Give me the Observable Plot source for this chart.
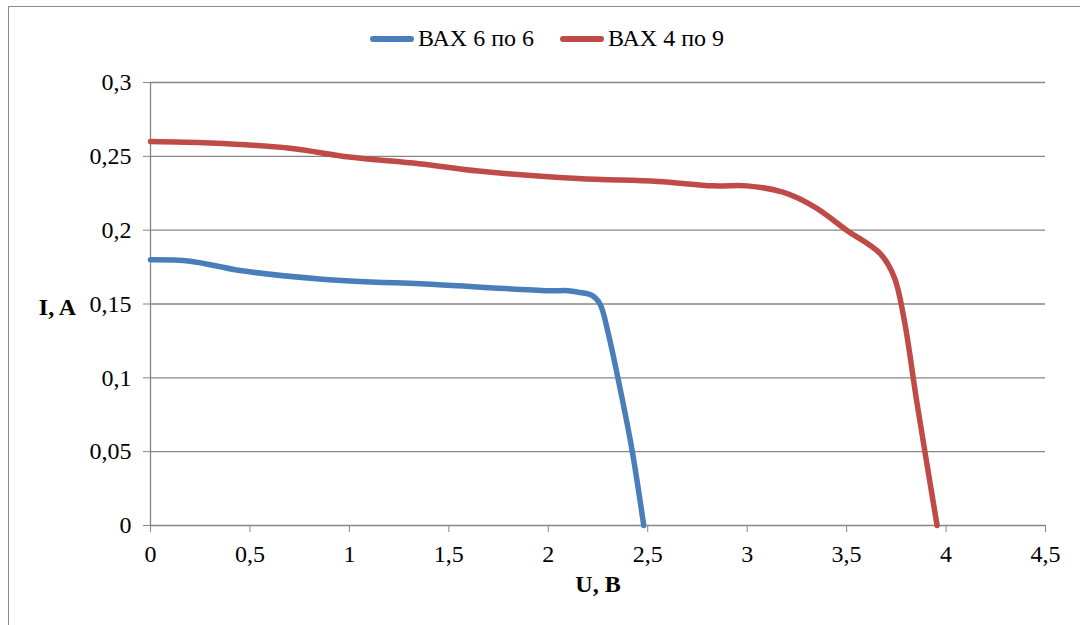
<!DOCTYPE html>
<html><head><meta charset="utf-8">
<script src="https://cdn.jsdelivr.net/npm/d3@7"></script>
<script src="https://cdn.jsdelivr.net/npm/@observablehq/plot@0.6"></script>
<style>
html,body{margin:0;padding:0;background:#fff;overflow:hidden;width:1080px;height:625px;}
#wrap{position:relative;width:1080px;height:625px;}
#frame{position:absolute;left:8px;top:6px;width:1200px;height:800px;border:1.5px solid #8c8c8c;box-sizing:border-box;}
#chart{position:absolute;left:0;top:0;}
#legend{position:absolute;top:25px;left:370px;font-family:"Liberation Serif","Times New Roman",serif;font-size:24px;color:#000;white-space:nowrap;display:flex;align-items:center;}
.sw{display:inline-block;width:44px;height:6px;border-radius:3px;margin-right:4px;}
.item{display:flex;align-items:center;margin-right:26px;}
</style></head>
<body><div id="wrap"><div id="frame"></div><div id="chart"></div><div id="legend"></div></div>
<script>
const seriesNames = ["ВАХ 6 по 6", "ВАХ 4 по 9"];
const seriesColors = ["#4a7ebb", "#be4b48"];
const blueU = [0, 0.2, 0.45, 0.85, 1.45, 2.0, 2.1, 2.15, 2.22, 2.26, 2.3, 2.35, 2.42, 2.48];
const blueI = [0.180, 0.179, 0.1727, 0.167, 0.163, 0.159, 0.159, 0.158, 0.1558, 0.150, 0.131, 0.100, 0.052, 0];
const redU = [0, 0.3, 0.7, 1.0, 1.35, 1.65, 2.15, 2.55, 2.83, 3.0, 3.18, 3.34, 3.5, 3.67, 3.74, 3.79, 3.855, 3.955];
const redI = [0.260, 0.259, 0.2555, 0.2495, 0.245, 0.240, 0.235, 0.233, 0.230, 0.230, 0.2257, 0.2156, 0.200, 0.184, 0.168, 0.139, 0.082, 0];
const xTicks = [0, 0.5, 1, 1.5, 2, 2.5, 3, 3.5, 4, 4.5];
const yTicks = [0, 0.05, 0.1, 0.15, 0.2, 0.25, 0.3];
const xLabel = "U, B";
const yLabel = "I, A";

const blue = blueU.map((u, k) => ({u, i: blueI[k], s: seriesNames[0]}));
const red = redU.map((u, k) => ({u, i: redI[k], s: seriesNames[1]}));
const fmt = d => String(d).replace(".", ",");
const gray = "#868686";
const serif = "'Liberation Serif', 'Times New Roman', serif";

const chart = Plot.plot({
  width: 1080, height: 625,
  marginLeft: 150, marginRight: 35, marginTop: 82, marginBottom: 100,
  style: {fontFamily: serif, fontSize: "24px", color: "#000", background: "transparent"},
  x: {domain: [0, 4.5], label: null},
  y: {domain: [0, 0.3], label: null},
  marks: [
    Plot.ruleY(yTicks, {stroke: gray, strokeWidth: 1.3}),
    Plot.ruleX([0], {stroke: gray, strokeWidth: 1.3}),
    Plot.axisX({ticks: xTicks, tickFormat: fmt, tickSize: 7, tickPadding: 12, stroke: gray, fill: "#000", label: null, fontSize: 24, fontFamily: serif}),
    Plot.axisY({ticks: yTicks, tickFormat: fmt, tickSize: 7, tickPadding: 12, stroke: gray, fill: "#000", label: null, fontSize: 24, fontFamily: serif}),
    Plot.line(blue, {x: "u", y: "i", stroke: seriesColors[0], strokeWidth: 5.5, curve: "catmull-rom"}),
    Plot.line(red, {x: "u", y: "i", stroke: seriesColors[1], strokeWidth: 5.5, curve: "catmull-rom"}),
    Plot.text([xLabel], {frameAnchor: "bottom", dy: 66, fontWeight: "bold", fontSize: 24, fontFamily: serif}),
    Plot.text([yLabel], {frameAnchor: "left", textAnchor: "middle", dx: -93, dy: 3, fontWeight: "bold", fontSize: 24, fontFamily: serif})
  ]
});
document.getElementById("chart").appendChild(chart);

const leg = document.getElementById("legend");
seriesNames.forEach((n, k) => {
  const it = document.createElement("span");
  it.className = "item";
  const sw = document.createElement("span");
  sw.className = "sw";
  sw.style.background = seriesColors[k];
  it.appendChild(sw);
  it.appendChild(document.createTextNode(n));
  leg.appendChild(it);
});
</script></body></html>
